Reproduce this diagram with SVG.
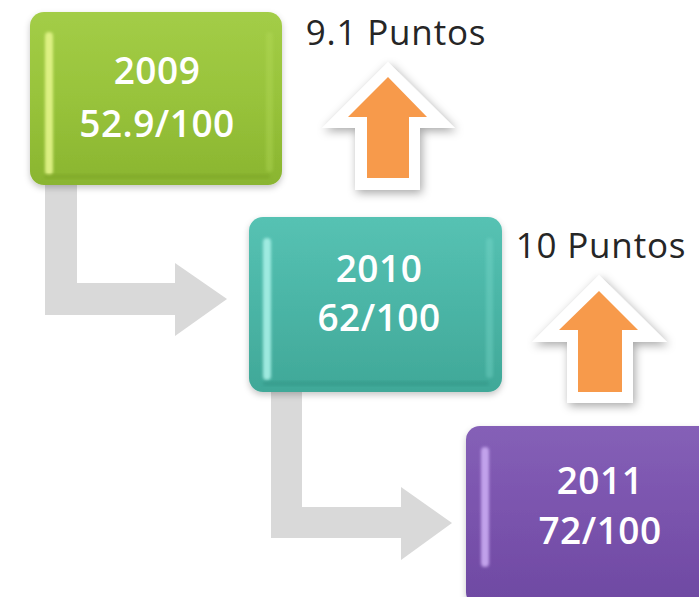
<svg xmlns="http://www.w3.org/2000/svg" width="699" height="597" viewBox="0 0 699 597">
<defs>
<linearGradient id="gGreen" x1="0" y1="0" x2="0" y2="1">
<stop offset="0" stop-color="#a3cd47"/><stop offset="0.5" stop-color="#98c33b"/><stop offset="1" stop-color="#8ab530"/>
</linearGradient>
<linearGradient id="gTeal" x1="0" y1="0" x2="0" y2="1">
<stop offset="0" stop-color="#56c2b3"/><stop offset="0.5" stop-color="#4bb5a6"/><stop offset="1" stop-color="#40a898"/>
</linearGradient>
<linearGradient id="gPurple" x1="0" y1="0" x2="0" y2="1">
<stop offset="0" stop-color="#8560b7"/><stop offset="0.5" stop-color="#7a53ad"/><stop offset="1" stop-color="#6e49a2"/>
</linearGradient>
<filter id="boxShadow" x="-10%" y="-10%" width="120%" height="125%">
<feDropShadow dx="0" dy="3" stdDeviation="3" flood-color="#000" flood-opacity="0.22"/>
</filter>
<filter id="arrowShadow" x="-30%" y="-30%" width="160%" height="160%">
<feDropShadow dx="2" dy="3" stdDeviation="5" flood-color="#000" flood-opacity="0.35"/>
</filter>
<filter id="soft" x="-50%" y="-10%" width="200%" height="120%">
<feGaussianBlur stdDeviation="1.5"/>
</filter>
<style>
.box text{font-family:"Open Sans","DejaVu Sans",sans-serif;font-weight:600;font-size:37px;letter-spacing:0.5px;fill:#ffffff;text-anchor:middle}
.lbl{font-family:"Open Sans","DejaVu Sans",sans-serif;font-size:35px;letter-spacing:0.8px;fill:#262626;text-anchor:middle}
.conn{fill:#d9d9d9}
.outer{fill:#ffffff;filter:url(#arrowShadow)}
.inner{fill:#f79a4b}
.hl{filter:url(#soft)}
</style>
</defs>
<rect width="699" height="597" fill="#ffffff"/>
<g id="connectors">
<path class="conn" d="M45,185 L77,185 L77,283 L175,283 L175,263 L227,299 L175,336 L175,315 L45,315 Z"/>
<path class="conn" d="M271,392 L302,392 L302,507 L401,507 L401,487 L452,523 L401,560 L401,538 L271,538 Z"/>
</g>
<g id="node-2009" class="box">
<rect x="30" y="12" width="252" height="173" rx="14" fill="url(#gGreen)" filter="url(#boxShadow)"/>
<rect class="hl" x="45" y="32" width="8" height="143" rx="4" fill="#e4f58a" opacity="0.9"/>
<rect class="hl" x="266" y="32" width="7" height="140" rx="3.5" fill="#b6dc5c" opacity="0.35"/>
<rect class="hl" x="44" y="174" width="226" height="5" rx="2.5" fill="#7aa326" opacity="0.5"/>
<text x="157" y="84">2009</text>
<text x="157" y="137">52.9/100</text>
</g>
<g id="node-2010" class="box">
<rect x="249" y="217" width="253" height="175" rx="14" fill="url(#gTeal)" filter="url(#boxShadow)"/>
<rect class="hl" x="263" y="238" width="8" height="142" rx="4" fill="#a7f0e6" opacity="0.9"/>
<rect class="hl" x="486" y="238" width="7" height="140" rx="3.5" fill="#7fdccf" opacity="0.35"/>
<rect class="hl" x="263" y="381" width="226" height="5" rx="2.5" fill="#2f8f80" opacity="0.4"/>
<text x="379" y="282">2010</text>
<text x="379" y="331">62/100</text>
</g>
<g id="node-2011" class="box">
<rect x="466" y="426" width="260" height="180" rx="14" fill="url(#gPurple)" filter="url(#boxShadow)"/>
<rect class="hl" x="481" y="447" width="8" height="120" rx="4" fill="#c9aaf2" opacity="0.9"/>
<text x="600" y="494">2011</text>
<text x="600" y="544">72/100</text>
</g>
<g id="up-arrow-1">
<path class="outer" d="M388,62 L455,128 L420,128 L420,190 L355,190 L355,128 L322,128 Z"/>
<path class="inner" d="M388,77 L427,117 L409,117 L409,178 L367,178 L367,117 L348,117 Z"/>
<text class="lbl" x="396" y="45">9.1 Puntos</text>
</g>
<g id="up-arrow-2">
<path class="outer" d="M599,275 L667,342 L633,342 L633,403 L567,403 L567,342 L532,342 Z"/>
<path class="inner" d="M599,291 L638,330 L622,330 L622,392 L578,392 L578,330 L559,330 Z"/>
<text class="lbl" x="601" y="258">10 Puntos</text>
</g>
</svg>
